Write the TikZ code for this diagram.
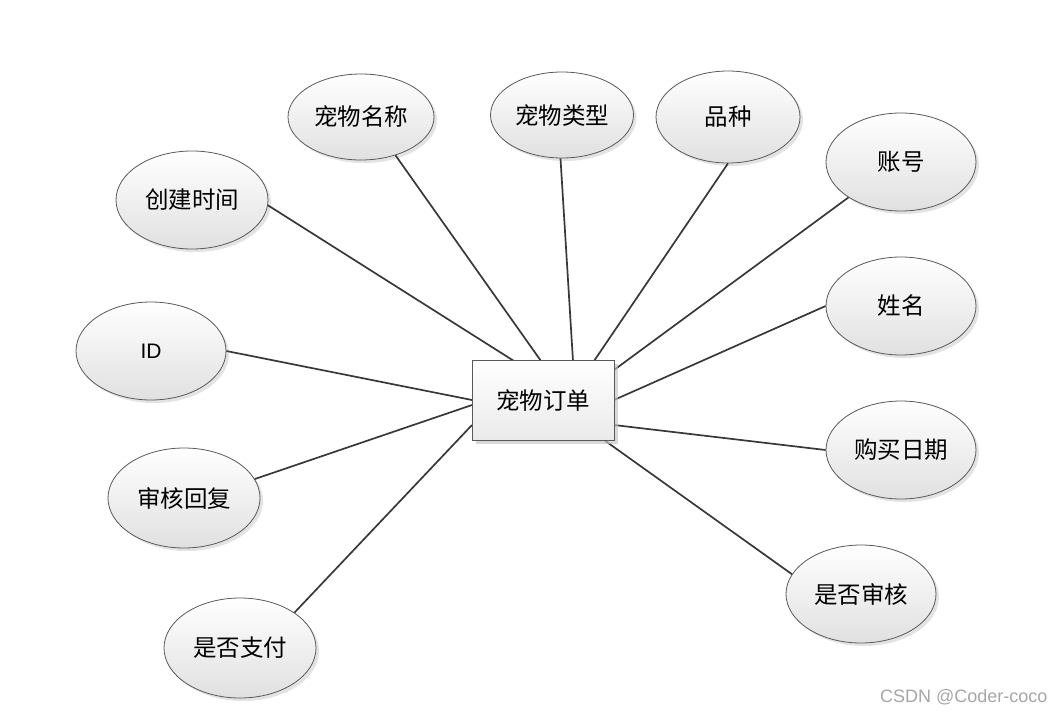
\documentclass[tikz,border=0pt]{standalone}
\usepackage{fontspec}
\setmainfont{Liberation Sans}
\newfontfamily\cjk{Noto Sans CJK SC}
\usetikzlibrary{shapes.geometric,shadows,calc}
\begin{document}
\begin{tikzpicture}[x=1pt,y=-1pt,
  attr/.style={ellipse,draw=black!65,line width=0.8pt,top color=white,bottom color=black!12,
    drop shadow={shadow xshift=3pt,shadow yshift=-3pt,fill=black!18,opacity=0.6},
    minimum width=150pt,minimum height=98pt,inner sep=0pt,font=\cjk\fontsize{23.5}{25}\selectfont},
  ent/.style={rectangle,draw=black!65,line width=0.8pt,top color=white,bottom color=black!8,
    drop shadow={shadow xshift=4pt,shadow yshift=-4pt,fill=black!18,opacity=0.6},
    minimum width=142pt,minimum height=80pt,inner sep=0pt,font=\cjk\fontsize{23.5}{25}\selectfont},
  link/.style={draw=black!78,line width=1.7pt}]
\useasboundingbox (0,0) rectangle (1055,715);
\node[ent] (r) at (543,400) {宠物订单};
\node[attr,minimum width=146pt,minimum height=86pt] (a1) at (361,117) {宠物名称};
\node[attr,minimum width=143pt,minimum height=86pt] (a2) at (562,115) {宠物类型};
\node[attr,minimum width=144pt,minimum height=92pt] (a3) at (728,117) {品种};
\node[attr] (a4) at (901,162) {账号};
\node[attr,minimum width=152pt] (a5) at (192,200) {创建时间};
\node[attr,font=\fontsize{21}{24}\selectfont] (a6) at (151,351) {ID};
\node[attr] (a7) at (901,306) {姓名};
\node[attr] (a8) at (901,450) {购买日期};
\node[attr,minimum width=152pt,minimum height=100pt] (a9) at (184,498) {审核回复};
\node[attr] (a10) at (861,594) {是否审核};
\node[attr,minimum width=152pt,minimum height=100pt] (a11) at (240,648) {是否支付};
\coordinate (p1) at (541,361);
\coordinate (p2) at (573,361);
\coordinate (p3) at (594,361);
\coordinate (p4) at (614,370);
\coordinate (p5) at (514,361);
\coordinate (p6) at (472,400);
\coordinate (p7) at (614,400);
\coordinate (p8) at (614,425);
\coordinate (p9) at (472,405);
\coordinate (p10) at (604,440);
\coordinate (p11) at (472,425);
\draw[link] (a1.-48) -- (p1);
\draw[link] (a2.-92) -- (p2);
\draw[link] (a3.-90) -- (p3);
\draw[link] (a4.214) -- (p4);
\draw[link] (a5.-4) -- (p5);
\draw[link] (a6.0) -- (p6);
\draw[link] (a7.180) -- (p7);
\draw[link] (a8.180) -- (p8);
\draw[link] (a9.15) -- (p9);
\draw[link] (a10.164) -- (p10);
\draw[link] (a11.33) -- (p11);
\node[ent] at (r) {宠物订单};
\node[text=black!35,font=\fontsize{18}{20}\selectfont,anchor=east] (wm) at (1051,697) {CSDN @Coder-coco};
\end{tikzpicture}
\end{document}
